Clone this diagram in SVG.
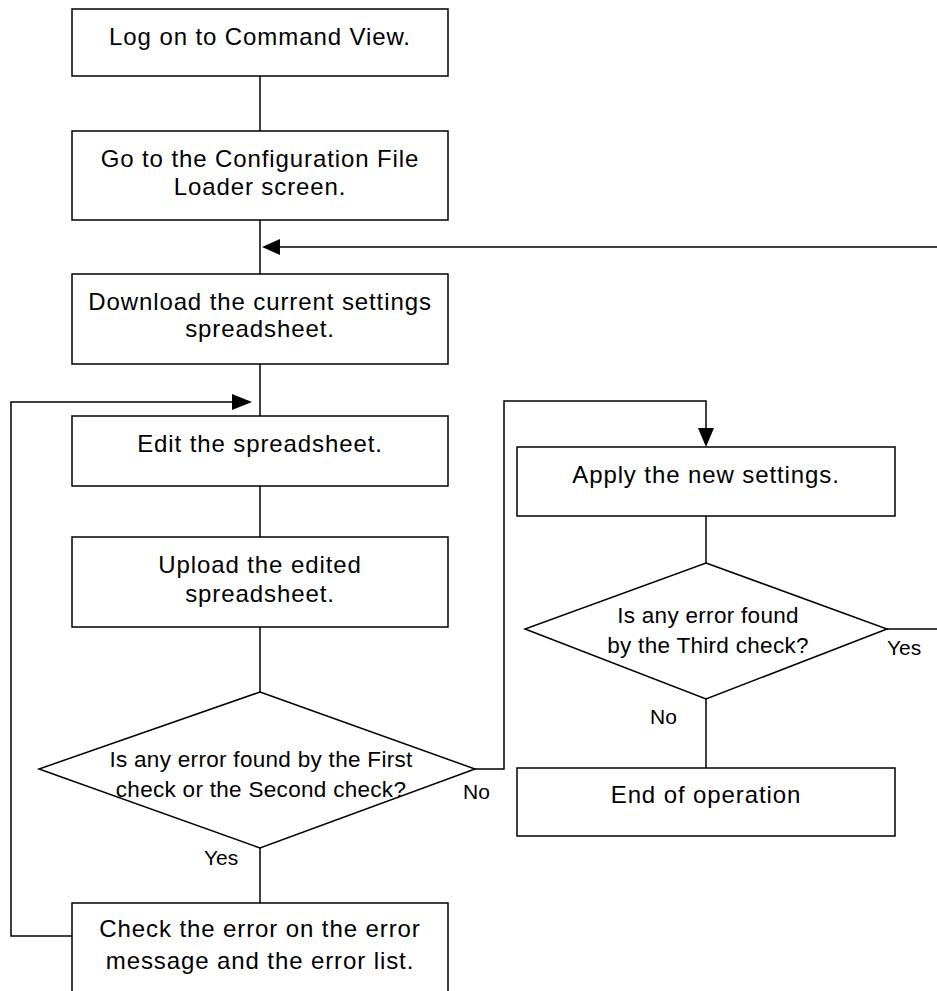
<svg xmlns="http://www.w3.org/2000/svg" width="937" height="991" viewBox="0 0 937 991">
<style>
.box{fill:#fff;stroke:#000;stroke-width:1.5}
.ln{fill:none;stroke:#000;stroke-width:1.5}
.ah{fill:#000;stroke:none}
text{font-family:"Liberation Sans",Arial,sans-serif;fill:#000;text-anchor:middle}
.t{font-size:24px;letter-spacing:0.9px}
.d{font-size:22.5px;letter-spacing:0.3px}
.lb{font-size:21px;text-anchor:start}
</style>
<rect width="937" height="991" fill="#fff"/>
<g id="connectors">
<path class="ln" d="M260 76V131M260 220V274M260 364V416M260 486V537M260 627V692M260 848V903"/>
<path class="ln" d="M937 247H270"/>
<polygon class="ah" points="262,247 280,239 280,255"/>
<path class="ln" d="M72 936H11V402H240"/>
<polygon class="ah" points="252,402 232,394 232,410"/>
<path class="ln" d="M475 769H504V401H706V435"/>
<polygon class="ah" points="706,447 698,428 714,428"/>
<path class="ln" d="M706 516V563M706 699V768M887 629H937"/>
</g>
<g id="n1"><rect class="box" x="72" y="9" width="376" height="67"/><text class="t" x="260" y="45">Log on to Command View.</text></g>
<g id="n2"><rect class="box" x="72" y="131" width="376" height="89"/><text class="t" x="260" y="167">Go to the Configuration File</text><text class="t" x="260" y="195">Loader screen.</text></g>
<g id="n3"><rect class="box" x="72" y="274" width="376" height="90"/><text class="t" x="260" y="310">Download the current settings</text><text class="t" x="260" y="337">spreadsheet.</text></g>
<g id="n4"><rect class="box" x="72" y="416" width="376" height="70"/><text class="t" x="260" y="452">Edit the spreadsheet.</text></g>
<g id="n5"><rect class="box" x="72" y="537" width="376" height="90"/><text class="t" x="260" y="573">Upload the edited</text><text class="t" x="260" y="602">spreadsheet.</text></g>
<g id="d1"><polygon class="box" points="260,692 475,769 260,848 39,769"/><text class="d" x="261" y="767">Is any error found by the First</text><text class="d" x="261" y="797">check or the Second check?</text></g>
<g id="n6"><rect class="box" x="72" y="903" width="376" height="100"/><text class="t" x="260" y="937">Check the error on the error</text><text class="t" x="260" y="969">message and the error list.</text></g>
<g id="n7"><rect class="box" x="517" y="447" width="378" height="69"/><text class="t" x="706" y="483">Apply the new settings.</text></g>
<g id="d2"><polygon class="box" points="706,563 887,629 706,699 525,629"/><text class="d" x="708" y="623">Is any error found</text><text class="d" x="708" y="653">by the Third check?</text></g>
<g id="n8"><rect class="box" x="517" y="768" width="378" height="68"/><text class="t" x="706" y="803">End of operation</text></g>
<g id="labels">
<text class="lb" x="204" y="865">Yes</text>
<text class="lb" x="463" y="799">No</text>
<text class="lb" x="887" y="655">Yes</text>
<text class="lb" x="650" y="724">No</text>
</g>
</svg>
